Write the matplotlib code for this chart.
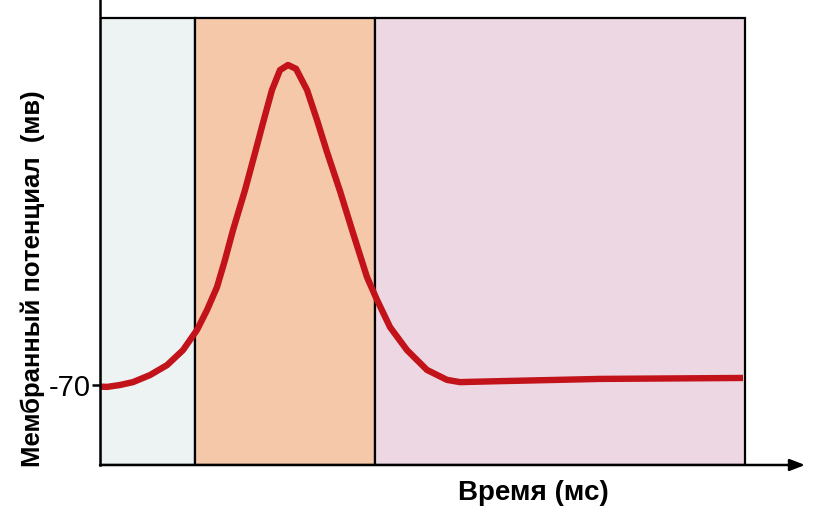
import matplotlib
matplotlib.use('Agg')
import matplotlib.pyplot as plt
from matplotlib.patches import Rectangle

plt.rcParams['font.family'] = ['Liberation Sans', 'DejaVu Sans']

# membrane potential trace (time in ms, potential in mV)
time_ms = [0.0, 0.07, 0.20, 0.33, 0.50, 0.67, 0.83, 0.97, 1.07, 1.17, 1.25, 1.33,
           1.45, 1.55, 1.63, 1.72, 1.80, 1.88, 1.96, 2.07, 2.17, 2.27, 2.40, 2.53,
           2.67, 2.77, 2.90, 3.07, 3.27, 3.47, 3.60, 4.00, 5.00, 6.43]
potential_mv = [-70.5, -70.6, -70.0, -69.1, -66.9, -63.8, -59.1, -52.8, -46.6, -39.4,
                -30.9, -21.6, -9.1, 2.5, 11.9, 22.2, 28.4, 30.0, 28.8, 22.2, 12.8,
                2.8, -9.4, -22.5, -36.3, -43.4, -51.9, -59.1, -65.3, -68.4, -69.1,
                -68.8, -68.1, -67.8]

# phase boundaries (ms)
phase_edges = [0.0, 0.95, 2.75, 6.45]
phase_colors = ['#edf2f3', '#f4c8a8', '#ecd7e2']

rest_tick = [-70]
rest_label = ['-70']

fig = plt.figure(figsize=(8.14, 5.13), dpi=100)
ax = fig.add_axes([100 / 814, 48 / 513, 705 / 814, 465 / 513])
ax.set_xlim(0, 7.05)
ax.set_ylim(-95, 50.3)

box_top = 44.7
for i in range(len(phase_edges) - 1):
    ax.add_patch(Rectangle((phase_edges[i], -95), phase_edges[i + 1] - phase_edges[i],
                           box_top + 95, facecolor=phase_colors[i], edgecolor='black',
                           lw=1.6, zorder=1))

ax.plot(time_ms, potential_mv, color='#c2121a', lw=4.6, solid_capstyle='butt',
        solid_joinstyle='round', zorder=3)

for s in ['top', 'right', 'bottom']:
    ax.spines[s].set_visible(False)
ax.spines['left'].set_linewidth(1.8)
ax.spines['left'].set_zorder(4)

# x axis with arrow
ax.annotate('', xy=(1.0, 0), xytext=(0, 0), xycoords='axes fraction',
            arrowprops=dict(arrowstyle='-|>,head_length=0.9,head_width=0.35',
                            color='black', lw=1.8, shrinkA=0, shrinkB=0), zorder=5)

ax.set_xticks([])
ax.set_yticks(rest_tick)
ax.set_yticklabels(rest_label)
ax.tick_params(axis='y', length=6, width=1.8, labelsize=21, pad=1)

ax.set_ylabel('Мембранный потенциал  (мв)', fontsize=18.5, fontweight='bold')
ax.yaxis.set_label_coords(-0.078, 0.40)
fig.text(533 / 814, 1 - 493 / 513, 'Время (мс)', fontsize=20, fontweight='bold',
         ha='center', va='center')

plt.savefig('out.png', dpi=100)
